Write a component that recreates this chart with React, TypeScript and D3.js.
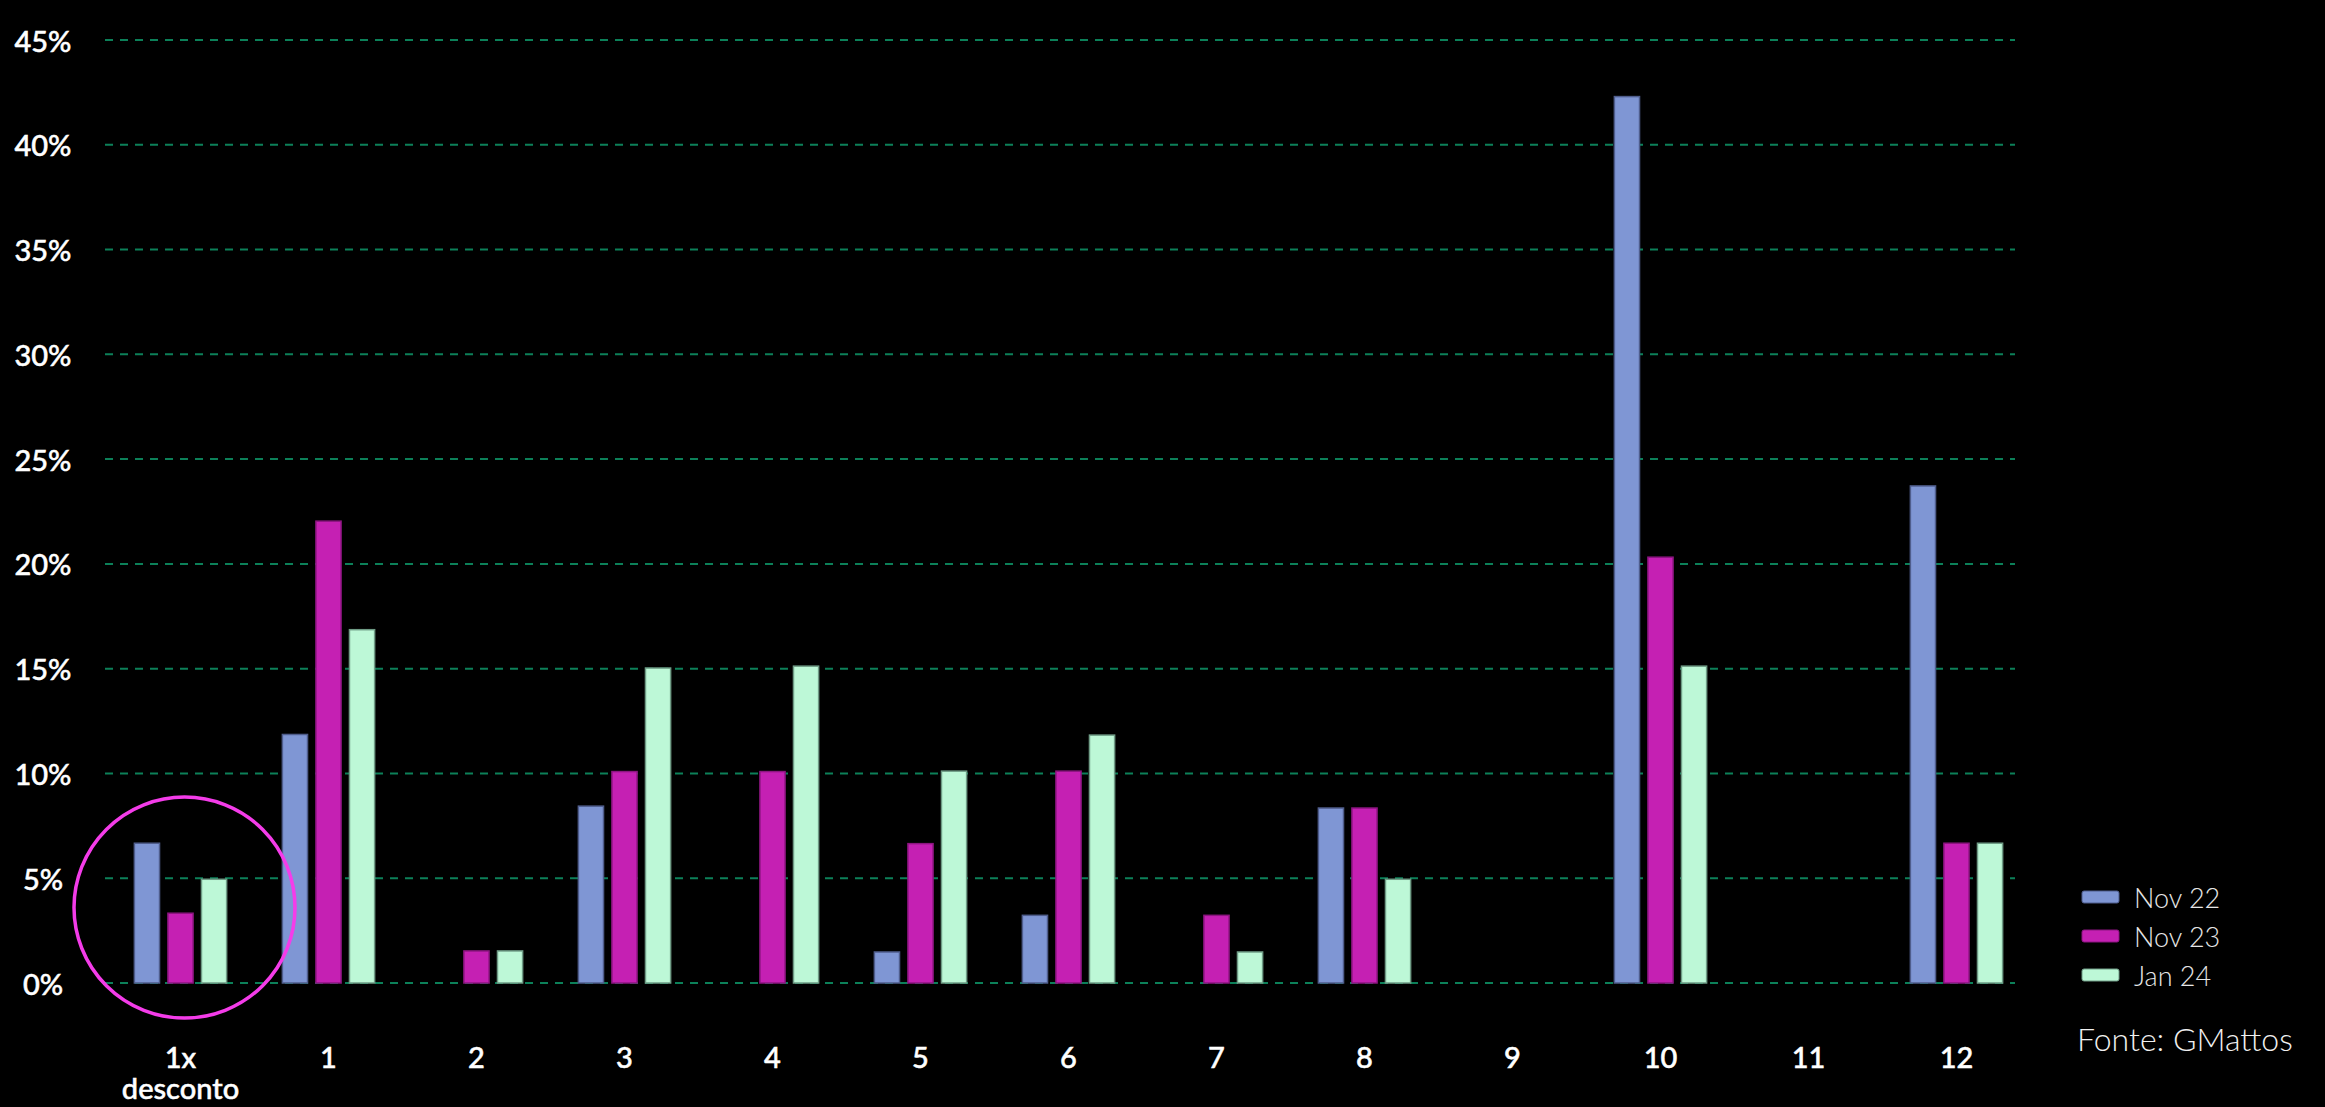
import React, { useEffect } from "react";
import * as d3 from "d3";

// Installment counts (first entry is the single discounted payment)
const categories = ["1x\ndesconto", "1", "2", "3", "4", "5", "6", "7", "8", "9", "10", "11", "12"];
const seriesNames = ["Nov 22", "Nov 23", "Jan 24"];

// Share of purchases per installment count, in percent
const nov22 = [6.67, 11.86, 0, 8.44, 0, 1.48, 3.23, 0, 8.35, 0, 42.3, 0, 23.72];
const nov23 = [3.33, 22.04, 1.53, 10.09, 10.09, 6.65, 10.11, 3.23, 8.35, 0, 20.32, 0, 6.67];
const jan24 = [4.95, 16.86, 1.53, 15.03, 15.12, 10.11, 11.83, 1.48, 4.95, 0, 15.12, 0, 6.67];

const yTicks = [0, 5, 10, 15, 20, 25, 30, 35, 40, 45];
const sourceNote = "Fonte: GMattos";

const W = 2325;
const H = 1107;
const FONT = "Lato, 'Open Sans', sans-serif";

const fills = ["#7f96d4", "#c520b3", "#bdf8d7"];
const strokes = ["#4f5d8c", "#8c1580", "#6f9c86"];

export default function App() {
  useEffect(() => {
    document.body.style.margin = "0";
    document.body.style.background = "#000";
  }, []);

  const values = [nov22, nov23, jan24];

  const x0 = d3.scaleBand<string>().domain(categories).range([106.5, 2030.5]).paddingInner(0).paddingOuter(0);
  const x1 = d3
    .scaleBand<string>()
    .domain(seriesNames)
    .range([0, x0.bandwidth() * 0.68])
    .paddingInner(0.25)
    .paddingOuter(0.125);
  const groupOffset = (x0.bandwidth() - x0.bandwidth() * 0.68) / 2;
  const y = d3.scaleLinear().domain([0, 45]).range([983, 40]);

  const gridX1 = 105;
  const gridX2 = 2015;

  const firstCenter = (x0(categories[0]) ?? 0) + x0.bandwidth() / 2;

  return (
    <svg width={W} height={H} style={{ display: "block", background: "#000" }}>
      <rect x={0} y={0} width={W} height={H} fill="#000" />

      {/* horizontal dashed grid */}
      {yTicks.map((t) => (
        <line
          key={`g${t}`}
          x1={gridX1}
          x2={gridX2}
          y1={y(t)}
          y2={y(t)}
          stroke="#0c8059"
          strokeWidth={2}
          strokeDasharray="8 7"
        />
      ))}

      {/* y axis labels */}
      {yTicks.map((t) => (
        <text
          key={`yl${t}`}
          x={43}
          y={y(t)}
          fill="#ffffff"
          stroke="#ffffff"
          strokeWidth={0.5}
          fontFamily={FONT}
          fontSize={29}
          fontWeight={500}
          textAnchor="middle"
          dominantBaseline="central"
        >
          {`${t}%`}
        </text>
      ))}

      {/* bars */}
      {categories.map((c, ci) => (
        <g key={`c${ci}`} transform={`translate(${(x0(c) ?? 0) + groupOffset},0)`}>
          {seriesNames.map((s, si) => {
            const v = values[si][ci];
            if (v <= 0) return null;
            return (
              <rect
                key={s}
                x={x1(s)}
                y={y(v)}
                width={x1.bandwidth()}
                height={y(0) - y(v)}
                fill={fills[si]}
                stroke={strokes[si]}
                strokeWidth={1.5}
              />
            );
          })}
        </g>
      ))}

      {/* x axis labels */}
      {categories.map((c, ci) => {
        const cx = (x0(c) ?? 0) + x0.bandwidth() / 2;
        const lines = c.split("\n");
        return (
          <text
            key={`xl${ci}`}
            x={cx}
            y={1068}
            fill="#ffffff"
            stroke="#ffffff"
            strokeWidth={0.5}
            fontFamily={FONT}
            fontSize={29}
            fontWeight={500}
            textAnchor="middle"
          >
            {lines.map((ln, li) => (
              <tspan key={li} x={cx} dy={li === 0 ? 0 : 31}>
                {ln}
              </tspan>
            ))}
          </text>
        );
      })}

      {/* highlight ring around the discounted single payment */}
      <circle cx={firstCenter + 4} cy={y(3.6)} r={110.5} fill="none" stroke="#f43ce9" strokeWidth={3.5} />

      {/* legend */}
      {seriesNames.map((s, si) => (
        <g key={`lg${s}`} transform={`translate(2082,${897 + si * 39})`}>
          <rect x={0} y={-6} width={37} height={12} rx={2} fill={fills[si]} stroke={strokes[si]} strokeWidth={1} />
          <text
            x={52}
            y={0}
            fill="#e6e6e6"
            fontFamily={FONT}
            fontSize={27}
            fontWeight={300}
            dominantBaseline="central"
          >
            {s}
          </text>
        </g>
      ))}

      <text x={2077} y={1051} fill="#f0f0f0" fontFamily={FONT} fontSize={32} fontWeight={300}>
        {sourceNote}
      </text>
    </svg>
  );
}
